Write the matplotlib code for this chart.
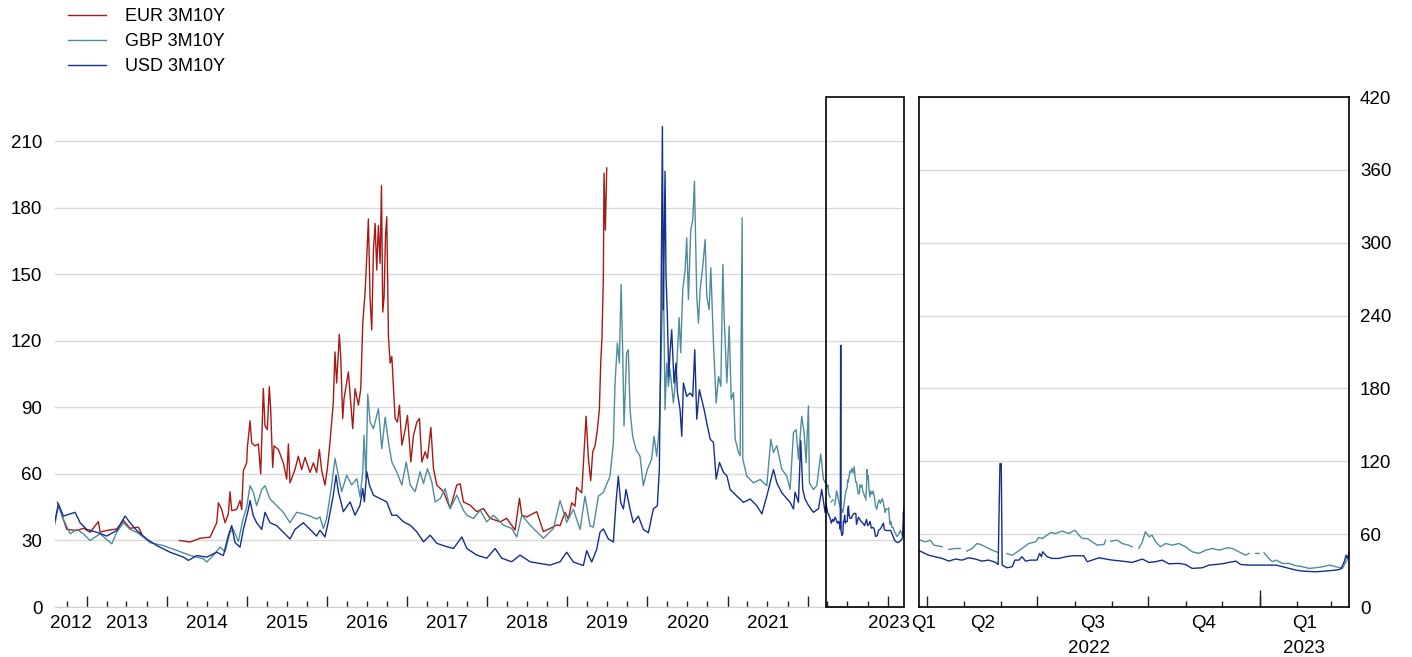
import numpy as np
import pandas as pd
import matplotlib
matplotlib.use('Agg')
import matplotlib.pyplot as plt
import matplotlib.dates as mdates
from matplotlib.patches import Rectangle
from matplotlib.lines import Line2D

plt.rcParams['font.family'] = ['Liberation Sans', 'DejaVu Sans']

nan = np.nan

# (decimal year, value in bp)
eur = [
    (2012.634, 47.2), (2012.750, 35.0), (2012.875, 34.5), (2012.958, 35.5),
    (2013.041, 33.7), (2013.145, 38.5), (2013.166, 33.8), (2013.249, 34.5),
    (2013.374, 35.2), (2013.458, 39.0), (2013.541, 35.5), (2013.645, 36.0),
    (2013.686, 33.0), (2013.700, nan),
    (2014.157, 30.0), (2014.290, 29.3), (2014.415, 31.0), (2014.540, 31.5),
    (2014.623, 38.0), (2014.644, 47.0), (2014.685, 44.0), (2014.727, 38.0),
    (2014.768, 42.0), (2014.789, 52.0), (2014.810, 43.5), (2014.872, 44.0),
    (2014.914, 48.0), (2014.935, 44.0), (2014.956, 61.5), (2014.997, 65.0),
    (2015.006, 72.0), (2015.039, 84.0), (2015.060, 74.0), (2015.101, 72.7),
    (2015.143, 73.5), (2015.172, 60.0), (2015.193, 85.5), (2015.205, 98.5),
    (2015.226, 81.7), (2015.255, 80.0), (2015.280, 99.4), (2015.297, 89.0),
    (2015.322, 63.0), (2015.339, 72.7), (2015.393, 71.0), (2015.455, 65.0),
    (2015.497, 57.7), (2015.518, 73.5), (2015.538, 56.0), (2015.601, 62.0),
    (2015.642, 68.0), (2015.684, 62.0), (2015.726, 67.5), (2015.788, 60.7),
    (2015.830, 65.0), (2015.871, 60.7), (2015.905, 71.0), (2015.934, 61.6),
    (2015.975, 55.0), (2016.005, 62.4), (2016.038, 74.4), (2016.079, 92.4),
    (2016.100, 115.0), (2016.121, 101.0), (2016.154, 123.0), (2016.171, 113.0),
    (2016.196, 85.0), (2016.213, 94.0), (2016.267, 106.0), (2016.296, 92.4),
    (2016.321, 80.4), (2016.350, 98.4), (2016.392, 91.0), (2016.421, 98.4),
    (2016.446, 128.0), (2016.475, 142.0), (2016.496, 158.0), (2016.516, 175.0),
    (2016.537, 139.0), (2016.558, 125.0), (2016.579, 161.0), (2016.600, 173.0),
    (2016.620, 152.0), (2016.641, 172.0), (2016.662, 155.0), (2016.679, 190.0),
    (2016.695, 133.0), (2016.712, 140.0), (2016.729, 167.0), (2016.745, 176.0),
    (2016.766, 122.0), (2016.787, 110.0), (2016.808, 113.0), (2016.849, 85.0),
    (2016.878, 83.4), (2016.903, 91.0), (2016.933, 73.0), (2016.974, 80.0),
    (2017.003, 86.4), (2017.045, 65.4), (2017.078, 77.4), (2017.120, 83.4),
    (2017.153, 85.0), (2017.182, 65.4), (2017.224, 70.0), (2017.253, 67.0),
    (2017.295, 81.0), (2017.328, 62.4), (2017.370, 55.0), (2017.453, 52.0),
    (2017.536, 44.4), (2017.619, 55.0), (2017.661, 55.6), (2017.702, 47.4),
    (2017.786, 45.9), (2017.869, 43.0), (2017.952, 44.4), (2018.035, 40.0),
    (2018.160, 38.4), (2018.243, 40.0), (2018.347, 34.7), (2018.402, 49.0),
    (2018.431, 41.4), (2018.493, 40.6), (2018.618, 43.0), (2018.701, 34.0),
    (2018.784, 35.4), (2018.868, 37.0), (2018.909, 36.7), (2018.971, 42.7),
    (2019.013, 39.7), (2019.055, 47.0), (2019.096, 45.5), (2019.117, 54.0),
    (2019.138, 53.0), (2019.180, 51.5), (2019.209, 69.7), (2019.234, 86.0),
    (2019.263, 67.0), (2019.292, 57.0), (2019.317, 70.0), (2019.346, 72.7),
    (2019.375, 80.0), (2019.400, 89.0), (2019.417, 110.0), (2019.433, 122.0),
    (2019.450, 149.0), (2019.458, 195.7), (2019.475, 170.0), (2019.492, 198.0),
]

gbp = [
    (2012.604, 37.5), (2012.646, 45.7), (2012.708, 39.7), (2012.792, 33.0),
    (2012.875, 35.0), (2012.958, 33.0), (2013.041, 30.0), (2013.166, 33.0),
    (2013.312, 28.5), (2013.374, 33.7), (2013.458, 38.0), (2013.541, 35.0),
    (2013.624, 33.7), (2013.707, 31.5), (2013.790, 29.0), (2013.957, 27.7),
    (2014.123, 25.5), (2014.290, 23.3), (2014.456, 21.7), (2014.498, 20.3),
    (2014.581, 23.3), (2014.664, 27.0), (2014.727, 25.0), (2014.789, 33.7),
    (2014.831, 35.0), (2014.893, 29.5), (2014.947, 39.0), (2014.997, 45.0),
    (2015.039, 54.7), (2015.081, 51.7), (2015.122, 45.7), (2015.185, 53.0),
    (2015.226, 54.7), (2015.289, 48.7), (2015.372, 45.7), (2015.455, 42.7),
    (2015.538, 38.0), (2015.622, 42.7), (2015.705, 42.0), (2015.788, 41.0),
    (2015.871, 39.7), (2015.913, 40.6), (2015.955, 35.4), (2015.996, 39.9),
    (2016.059, 55.0), (2016.100, 67.0), (2016.142, 59.4), (2016.183, 52.0),
    (2016.246, 59.4), (2016.308, 55.0), (2016.371, 57.9), (2016.412, 49.6),
    (2016.446, 61.0), (2016.462, 77.4), (2016.487, 58.2), (2016.508, 96.0),
    (2016.537, 83.4), (2016.579, 80.4), (2016.641, 89.4), (2016.683, 71.4),
    (2016.725, 85.6), (2016.766, 74.4), (2016.808, 65.4), (2016.870, 60.9),
    (2016.933, 55.0), (2016.987, 65.4), (2017.037, 55.0), (2017.099, 52.0),
    (2017.161, 61.0), (2017.203, 55.7), (2017.253, 62.4), (2017.307, 56.4),
    (2017.349, 47.4), (2017.411, 48.9), (2017.474, 53.4), (2017.536, 44.4),
    (2017.619, 50.4), (2017.702, 43.6), (2017.744, 41.4), (2017.827, 39.9),
    (2017.911, 43.6), (2017.994, 38.4), (2018.077, 41.4), (2018.202, 36.9),
    (2018.306, 35.4), (2018.368, 31.6), (2018.431, 41.4), (2018.535, 36.9),
    (2018.618, 33.9), (2018.701, 31.0), (2018.826, 35.4), (2018.909, 48.0),
    (2018.992, 38.2), (2019.075, 44.0), (2019.159, 35.0), (2019.221, 50.0),
    (2019.284, 36.5), (2019.325, 36.0), (2019.388, 50.0), (2019.450, 51.7),
    (2019.533, 59.0), (2019.575, 74.0), (2019.596, 101.0), (2019.625, 119.0),
    (2019.650, 110.0), (2019.671, 145.5), (2019.691, 116.0), (2019.708, 81.7),
    (2019.741, 114.7), (2019.762, 116.0), (2019.783, 89.0), (2019.816, 77.0),
    (2019.858, 71.0), (2019.908, 68.0), (2019.949, 54.7), (2019.999, 62.0),
    (2020.053, 66.7), (2020.083, 77.0), (2020.116, 68.0), (2020.149, 81.7),
    (2020.166, 104.0), (2020.182, 131.0), (2020.199, 152.0), (2020.220, 89.0),
    (2020.241, 110.0), (2020.262, 99.5), (2020.282, 107.0), (2020.324, 92.0),
    (2020.366, 108.5), (2020.395, 130.5), (2020.415, 114.7), (2020.440, 143.0),
    (2020.470, 152.0), (2020.490, 166.5), (2020.511, 138.7), (2020.540, 170.0),
    (2020.565, 174.7), (2020.586, 192.0), (2020.615, 140.2), (2020.636, 128.0),
    (2020.657, 143.0), (2020.690, 153.7), (2020.719, 165.7), (2020.740, 140.0),
    (2020.769, 134.0), (2020.790, 153.0), (2020.823, 119.0), (2020.857, 92.0),
    (2020.886, 104.0), (2020.915, 99.5), (2020.940, 154.5), (2020.956, 131.0),
    (2020.990, 101.0), (2021.019, 126.7), (2021.044, 93.7), (2021.073, 96.7),
    (2021.094, 75.7), (2021.135, 69.7), (2021.156, 68.2), (2021.181, 175.5),
    (2021.189, 66.7), (2021.239, 59.0), (2021.323, 56.0), (2021.406, 57.5),
    (2021.489, 54.7), (2021.539, 75.7), (2021.572, 69.7), (2021.614, 72.7),
    (2021.676, 62.2), (2021.739, 59.0), (2021.780, 53.0), (2021.822, 78.7),
    (2021.855, 80.0), (2021.884, 66.7), (2021.925, 86.0), (2021.955, 78.7),
    (2021.980, 65.2), (2022.009, 90.7), (2022.021, 56.0), (2022.071, 53.0),
    (2022.113, 54.7), (2022.163, 69.0), (2022.196, 57.7), (2022.230, 55.1),
    (2022.242, 53.7), (2022.253, 55.1), (2022.261, 51.0), (2022.280, 49.6),
    (2022.287, nan),
    (2022.295, 47.4), (2022.310, 48.2), (2022.321, 48.2), (2022.328, nan),
    (2022.336, 46.0), (2022.348, 48.2), (2022.359, 52.3), (2022.367, 51.5),
    (2022.378, 49.6), (2022.393, 46.8), (2022.407, 44.9), (2022.416, nan),
    (2022.427, 44.0), (2022.439, 42.6), (2022.450, 45.4), (2022.461, 48.2),
    (2022.476, 52.3), (2022.492, 53.7), (2022.499, 57.3), (2022.507, 56.4),
    (2022.518, 59.2), (2022.526, 61.4), (2022.537, 60.5), (2022.552, 62.5),
    (2022.567, 60.5), (2022.581, 63.3), (2022.590, 59.2), (2022.598, 56.4),
    (2022.609, 56.4), (2022.620, 53.7), (2022.632, 50.9), (2022.647, 51.5),
    (2022.651, 55.1), (2022.656, nan),
    (2022.662, 54.2), (2022.677, 55.1), (2022.688, 52.3), (2022.703, 50.9),
    (2022.711, 49.6), (2022.718, nan),
    (2022.726, 48.2), (2022.734, 53.7), (2022.741, 62.0), (2022.749, 57.8),
    (2022.756, 59.2), (2022.764, 53.7), (2022.775, 49.6), (2022.787, 52.3),
    (2022.802, 50.9), (2022.817, 52.3), (2022.832, 49.6), (2022.847, 45.5),
    (2022.862, 44.1), (2022.878, 46.8), (2022.893, 48.2), (2022.908, 46.8),
    (2022.927, 48.8), (2022.938, 48.2), (2022.953, 45.5), (2022.968, 42.7),
    (2022.976, 44.1), (2022.983, nan),
    (2022.991, 44.1), (2022.999, 44.1), (2023.004, nan),
    (2023.010, 44.7), (2023.021, 40.0), (2023.029, 37.3), (2023.037, 38.6),
    (2023.052, 35.9), (2023.067, 35.9), (2023.082, 34.0), (2023.097, 33.2),
    (2023.112, 31.8), (2023.127, 32.3), (2023.143, 33.2), (2023.158, 34.5),
    (2023.173, 33.2), (2023.188, 31.8), (2023.196, 37.3), (2023.203, 42.7),
]

usd = [
    (2012.604, 39.0), (2012.646, 46.5), (2012.708, 41.0), (2012.792, 42.0),
    (2012.854, 42.7), (2012.917, 38.0), (2012.999, 35.0), (2013.125, 33.7),
    (2013.249, 32.0), (2013.374, 34.5), (2013.478, 41.0), (2013.541, 38.0),
    (2013.624, 34.5), (2013.749, 30.7), (2013.874, 27.7), (2014.040, 24.7),
    (2014.207, 22.5), (2014.269, 21.0), (2014.373, 23.2), (2014.498, 22.5),
    (2014.623, 24.7), (2014.706, 23.2), (2014.768, 32.2), (2014.810, 36.7),
    (2014.852, 29.0), (2014.914, 27.0), (2014.956, 35.0), (2015.018, 44.0),
    (2015.039, 48.0), (2015.081, 41.0), (2015.122, 38.0), (2015.185, 35.0),
    (2015.226, 42.7), (2015.289, 38.0), (2015.372, 36.7), (2015.455, 33.7),
    (2015.538, 30.7), (2015.601, 35.0), (2015.705, 38.0), (2015.788, 35.0),
    (2015.871, 32.0), (2015.913, 34.6), (2015.975, 31.6), (2016.017, 38.4),
    (2016.079, 50.4), (2016.113, 59.4), (2016.142, 52.0), (2016.204, 43.0),
    (2016.288, 47.4), (2016.350, 41.4), (2016.412, 45.9), (2016.446, 53.4),
    (2016.466, 47.4), (2016.496, 61.0), (2016.529, 55.0), (2016.579, 50.4),
    (2016.662, 48.9), (2016.745, 47.4), (2016.808, 41.4), (2016.870, 41.4),
    (2016.953, 38.4), (2017.037, 36.9), (2017.120, 33.9), (2017.203, 29.4),
    (2017.286, 32.4), (2017.370, 28.7), (2017.494, 27.2), (2017.578, 26.4),
    (2017.682, 31.6), (2017.744, 26.4), (2017.869, 23.4), (2017.994, 22.0),
    (2018.098, 26.4), (2018.181, 22.0), (2018.306, 20.4), (2018.410, 23.4),
    (2018.535, 20.4), (2018.660, 19.6), (2018.784, 18.9), (2018.909, 20.4),
    (2018.992, 24.7), (2019.075, 20.3), (2019.200, 18.7), (2019.242, 25.4),
    (2019.304, 20.3), (2019.367, 26.0), (2019.408, 33.7), (2019.450, 35.2),
    (2019.512, 30.7), (2019.575, 29.3), (2019.608, 47.2), (2019.637, 59.0),
    (2019.666, 47.2), (2019.700, 44.2), (2019.733, 53.0), (2019.783, 44.2),
    (2019.824, 38.0), (2019.887, 41.0), (2019.949, 35.0), (2020.012, 33.5),
    (2020.074, 44.2), (2020.124, 45.7), (2020.149, 62.0), (2020.170, 134.0),
    (2020.187, 216.7), (2020.199, 134.0), (2020.220, 196.5), (2020.232, 149.0),
    (2020.249, 131.0), (2020.266, 104.0), (2020.282, 114.7), (2020.303, 125.0),
    (2020.332, 101.0), (2020.357, 110.0), (2020.374, 96.7), (2020.407, 89.0),
    (2020.428, 77.0), (2020.449, 101.0), (2020.490, 95.0), (2020.532, 96.5),
    (2020.565, 95.0), (2020.590, 116.0), (2020.615, 84.7), (2020.648, 98.0),
    (2020.678, 93.5), (2020.707, 89.0), (2020.740, 83.0), (2020.782, 75.7),
    (2020.823, 74.2), (2020.857, 57.7), (2020.898, 65.2), (2020.948, 60.7),
    (2020.990, 59.2), (2021.031, 53.0), (2021.115, 50.0), (2021.198, 47.2),
    (2021.281, 48.7), (2021.364, 45.7), (2021.427, 42.0), (2021.489, 50.0),
    (2021.572, 62.0), (2021.614, 56.0), (2021.676, 51.5), (2021.780, 47.2),
    (2021.822, 44.2), (2021.842, 51.8), (2021.884, 47.2), (2021.913, 75.0),
    (2021.938, 53.0), (2021.967, 48.7), (2022.009, 45.8), (2022.071, 42.7),
    (2022.134, 44.3), (2022.175, 53.0), (2022.217, 42.7), (2022.230, 46.0),
    (2022.249, 42.7), (2022.264, 41.4), (2022.280, 40.0), (2022.295, 37.8),
    (2022.310, 39.5), (2022.325, 38.6), (2022.340, 40.5), (2022.355, 39.5),
    (2022.370, 37.8), (2022.386, 38.6), (2022.401, 36.7), (2022.407, 35.0),
    (2022.411, 118.0), (2022.414, 118.0), (2022.416, 34.5), (2022.427, 32.3),
    (2022.439, 33.2), (2022.445, 38.6), (2022.454, 38.6), (2022.461, 41.4),
    (2022.469, 37.8), (2022.480, 38.6), (2022.495, 38.6), (2022.501, 44.1),
    (2022.505, 41.4), (2022.508, 45.5), (2022.518, 41.4), (2022.529, 40.0),
    (2022.545, 40.0), (2022.560, 41.4), (2022.575, 42.2), (2022.590, 42.2),
    (2022.601, 42.2), (2022.609, 37.3), (2022.620, 38.6), (2022.635, 40.5),
    (2022.651, 39.5), (2022.666, 38.6), (2022.688, 37.8), (2022.711, 36.7),
    (2022.734, 39.5), (2022.749, 36.7), (2022.764, 37.3), (2022.779, 38.6),
    (2022.794, 35.6), (2022.817, 35.9), (2022.832, 35.0), (2022.847, 31.8),
    (2022.870, 32.3), (2022.885, 34.5), (2022.900, 35.0), (2022.915, 35.6),
    (2022.931, 36.7), (2022.946, 37.8), (2022.957, 35.0), (2022.976, 34.5),
    (2023.006, 34.5), (2023.037, 34.5), (2023.052, 33.2), (2023.067, 31.8),
    (2023.082, 30.4), (2023.097, 29.6), (2023.127, 29.0), (2023.150, 29.6),
    (2023.173, 30.4), (2023.184, 31.2), (2023.192, 37.3), (2023.196, 42.7),
    (2023.199, 40.0), (2023.203, 45.0),
]

series_names = ['EUR 3M10Y', 'GBP 3M10Y', 'USD 3M10Y']
series_colors = ['#a51a16', '#4d8d9c', '#13308e']

left_start, left_end = '2012-08-09', '2023-03-16'
zoom_start, zoom_end = '2022-03-25', '2023-03-16'
left_yticks = list(range(0, 211, 30))
right_yticks = list(range(0, 421, 60))


def to_dates(years):
    out = []
    for y in years:
        yr = int(y)
        start = pd.Timestamp(yr, 1, 1)
        out.append(start + (pd.Timestamp(yr + 1, 1, 1) - start) * (y - yr))
    return pd.DatetimeIndex(out)


def split(pairs):
    t = to_dates([p[0] for p in pairs])
    v = np.array([p[1] for p in pairs], dtype=float)
    return t, v


def segment_centers(edges, lo, hi):
    """centres of the visible part of each period"""
    lo, hi = mdates.date2num(pd.Timestamp(lo)), mdates.date2num(pd.Timestamp(hi))
    out = []
    for a, b in zip(edges[:-1], edges[1:]):
        a = max(mdates.date2num(pd.Timestamp(a)), lo)
        b = min(mdates.date2num(pd.Timestamp(b)), hi)
        out.append((a + b) / 2)
    return out


fig = plt.figure(figsize=(14.12, 6.57), dpi=100)
W, H = 1412, 657
ax1 = fig.add_axes([55 / W, 50 / H, 849 / W, 510 / H])
ax2 = fig.add_axes([919 / W, 50 / H, 430 / W, 510 / H])

data = [split(eur), split(gbp), split(usd)]
for ax in (ax1, ax2):
    for (t, v), c in zip(data, series_colors):
        ax.plot(t, v, color=c, lw=1.0)
    ax.grid(axis='y', color='#dadada', lw=1)
    ax.set_axisbelow(True)

tick_fs = 13.5

# left panel
ax1.set_xlim(pd.Timestamp(left_start), pd.Timestamp(left_end))
ax1.set_ylim(0, 230)
ax1.set_yticks(left_yticks)
ax1.tick_params(axis='y', length=0, pad=9, labelsize=tick_fs)
for s in ['top', 'right', 'left']:
    ax1.spines[s].set_visible(False)
ax1.spines['bottom'].set_color('#cfcfcf')
ax1.xaxis.set_major_locator(mdates.YearLocator())
ax1.xaxis.set_minor_locator(mdates.MonthLocator(bymonth=[4, 7, 10]))
ax1.tick_params(axis='x', which='major', direction='in', length=8,
                width=1, color='#222222', labelbottom=False)
ax1.tick_params(axis='x', which='minor', direction='in', length=4,
                width=1, color='#222222')

years = list(range(2012, 2024))
edges = [pd.Timestamp(y, 1, 1) for y in years] + [pd.Timestamp(2024, 1, 1)]
centers = segment_centers(edges, left_start, left_end)
for yr, cx in zip(years, centers):
    if yr == 2022:
        continue
    if yr == 2023:
        cx = mdates.date2num(pd.Timestamp('2023-01-06'))
    ax1.text(cx, -0.016, str(yr), transform=ax1.get_xaxis_transform(),
             ha='center', va='top', fontsize=tick_fs)

x0 = mdates.date2num(pd.Timestamp(zoom_start))
x1 = mdates.date2num(pd.Timestamp(zoom_end))
ax1.add_patch(Rectangle((x0, 0), x1 - x0, 1,
                        transform=ax1.get_xaxis_transform(), fill=False,
                        ec='black', lw=1.2, clip_on=False, zorder=5))

# right (zoom) panel
ax2.set_xlim(pd.Timestamp(zoom_start), pd.Timestamp(zoom_end))
ax2.set_ylim(0, 420)
ax2.set_yticks(right_yticks)
ax2.yaxis.tick_right()
ax2.tick_params(axis='y', length=0, pad=8, labelsize=tick_fs)
for s in ax2.spines.values():
    s.set_color('black')
    s.set_linewidth(1.2)
ax2.xaxis.set_major_locator(mdates.MonthLocator(bymonth=[1, 4, 7, 10]))
ax2.xaxis.set_minor_locator(mdates.MonthLocator())
ax2.tick_params(axis='x', which='major', direction='in', length=8,
                width=1, color='#222222', labelbottom=False)
ax2.tick_params(axis='x', which='minor', direction='in', length=4,
                width=1, color='#222222')
sec = ax2.secondary_xaxis('bottom')
sec.set_xticks([mdates.date2num(pd.Timestamp('2023-01-01'))])
sec.tick_params(direction='in', length=12, width=1, color='#222222',
                labelbottom=False)
sec.spines['bottom'].set_visible(False)

q_edges = ['2022-01-01', '2022-04-01', '2022-07-01', '2022-10-01',
           '2023-01-01', '2023-04-01']
q_labels = ['Q1', 'Q2', 'Q3', 'Q4', 'Q1']
for lab, cx in zip(q_labels, segment_centers(q_edges, zoom_start, zoom_end)):
    ax2.text(cx, -0.016, lab, transform=ax2.get_xaxis_transform(),
             ha='center', va='top', fontsize=tick_fs)
y_edges = ['2022-01-01', '2023-01-01', '2024-01-01']
for lab, cx in zip(['2022', '2023'],
                   segment_centers(y_edges, zoom_start, zoom_end)):
    ax2.text(cx, -0.065, lab, transform=ax2.get_xaxis_transform(),
             ha='center', va='top', fontsize=tick_fs)

handles = [Line2D([], [], color=c, lw=1) for c in series_colors]
fig.legend(handles, series_names, loc='upper left',
           bbox_to_anchor=(68 / W, 1 - 8 / H), frameon=False, fontsize=13,
           handlelength=2.1, handletextpad=1.05, labelspacing=0.45,
           borderpad=0, borderaxespad=0)

fig.savefig('out.png', dpi=100)
